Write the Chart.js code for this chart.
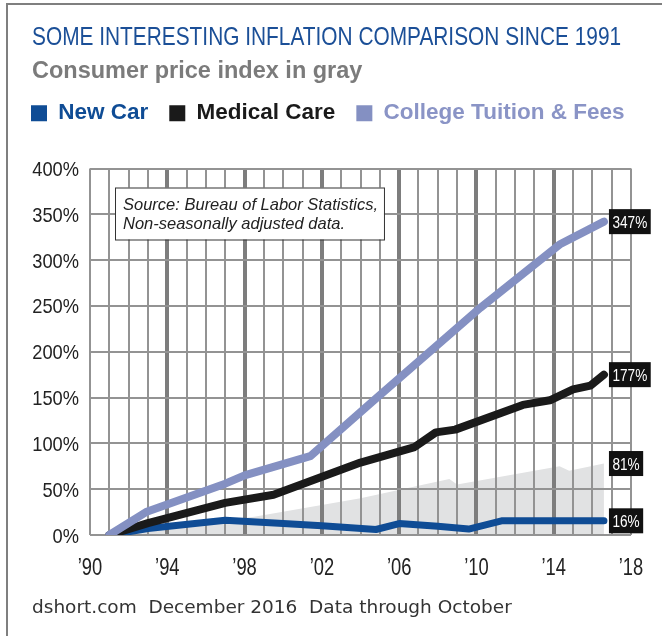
<!DOCTYPE html>
<html>
<head>
<meta charset="utf-8">
<script src="https://cdn.jsdelivr.net/npm/chart.js@4.4.1/dist/chart.umd.min.js"></script>
<style>
  html, body { margin: 0; padding: 0; background: #fff; }
  #wrap { position: relative; width: 662px; height: 636px; }
</style>
</head>
<body>
<div id="wrap"><canvas id="chart" width="662" height="636"></canvas></div>
<script>
// values (percent change since 1991)
const carYears = [1991, 1993, 1997, 2000, 2002, 2004.8, 2006, 2008, 2009.6, 2011.3, 2016.6];
const carValues = [0, 7, 16, 12.5, 10, 6, 12.5, 9.5, 6.5, 15.5, 15.5];

const medYears = [1991, 1993, 1997, 1999.5, 2004, 2006.8, 2007.9, 2008.9, 2012.4, 2013.8, 2015, 2015.9, 2016.6];
const medValues = [0, 13, 35, 44, 79, 96, 112, 115, 142, 147, 159, 163, 175];

const colYears = [1991, 1992.9, 1997, 1998, 2001.4, 2004.8, 2010.2, 2014.3, 2016.6];
const colValues = [0, 25, 56, 65, 86, 149, 248, 317, 342];

const cpiYears = [1991, 1998.5, 2004, 2008.6, 2009, 2014.3, 2014.8, 2016.6];
const cpiValues = [0, 20, 40, 61, 55, 75, 70, 78];

const seriesNames = ["New Car", "Medical Care", "College Tuition & Fees", "Consumer Price Index"];
const endLabels = ["16%", "177%", "347%", "81%"];
const yTicks = [0, 50, 100, 150, 200, 250, 300, 350, 400];

const titleText = "SOME INTERESTING INFLATION COMPARISON SINCE 1991";
const subtitleText = "Consumer price index in gray";
const sourceLines = ["Source: Bureau of Labor Statistics,", "Non-seasonally adjusted data."];
const footerText = "dshort.com  December 2016  Data through October";

const blue = "#0f4c95";
const black = "#1a1a1a";
const lilac = "#8490c2";
const cpiGray = "#e1e2e3";
const legendColors = [blue, black, "#8a94c6"];

const sans = "'Liberation Sans', Arial, sans-serif";

function toPoints(xs, ys) {
  return xs.map((x, i) => ({ x: x, y: ys[i] }));
}

function isMajor(v) {
  return v % 4 === 2 && v > 1990 && v < 2018;
}

// no narrow font installed: squeeze glyphs horizontally
function narrowText(ctx, text, x, y, sx, align) {
  ctx.save();
  ctx.translate(x, y);
  ctx.scale(sx, 1);
  ctx.textAlign = align;
  ctx.fillText(text, 0, 0);
  ctx.restore();
}

// keep legend on one row and leave room below it
const legendGap = {
  id: "legendGap",
  beforeInit(chart) {
    const fit = chart.legend.fit;
    chart.legend.fit = function () {
      this.maxWidth = chart.width;
      fit.bind(chart.legend)();
      this.height += 34;
    };
  },
  afterLayout(chart) {
    chart.legend.right = chart.width;
  }
};

const decor = {
  id: "decor",
  beforeDraw(chart) {
    const ctx = chart.ctx;
    ctx.save();
    ctx.fillStyle = "#7f7f7f";
    ctx.fillRect(6, 3, 2, 633);
    ctx.fillRect(6, 3, 656, 2);
    ctx.restore();
  },
  afterDatasetsDraw(chart) {
    const ctx = chart.ctx;
    const a = chart.chartArea;
    ctx.save();
    // end-of-line value tags
    ctx.font = "17px " + sans;
    ctx.textBaseline = "alphabetic";
    chart.data.datasets.forEach((ds, i) => {
      const meta = chart.getDatasetMeta(i);
      const last = meta.data[meta.data.length - 1];
      const w = ctx.measureText(endLabels[i]).width * 0.8 + 7;
      const x = last.x + 5;
      ctx.fillStyle = "#111";
      ctx.fillRect(x, last.y - 12.5, w, 25);
      ctx.fillStyle = "#fff";
      narrowText(ctx, endLabels[i], x + w / 2, last.y + 6.5, 0.8, "center");
    });
    // source note
    ctx.font = "italic 16.5px " + sans;
    const bw = Math.max(...sourceLines.map(t => ctx.measureText(t).width)) + 14;
    const bx = a.left + 25, by = a.top + 19;
    ctx.fillStyle = "#fff";
    ctx.fillRect(bx, by, bw, 52);
    ctx.strokeStyle = "#333";
    ctx.lineWidth = 1;
    ctx.strokeRect(bx + 0.5, by + 0.5, bw, 52);
    ctx.fillStyle = "#222";
    ctx.textAlign = "left";
    ctx.fillText(sourceLines[0], bx + 8, by + 22);
    ctx.fillText(sourceLines[1], bx + 8, by + 41);
    ctx.restore();
  },
  afterDraw(chart) {
    const ctx = chart.ctx;
    const a = chart.chartArea;
    ctx.save();
    ctx.textBaseline = "alphabetic";
    // tick labels
    ctx.fillStyle = "#222";
    ctx.font = "23.5px " + sans;
    const xs = chart.scales.x;
    xs.ticks.forEach(t => {
      if (t.label) narrowText(ctx, t.label, xs.getPixelForValue(t.value), a.bottom + 40, 0.78, "center");
    });
    ctx.font = "21px " + sans;
    const ys = chart.scales.y;
    ys.ticks.forEach(t => {
      narrowText(ctx, t.label, a.left - 11, ys.getPixelForValue(t.value) + 7.5, 0.87, "right");
    });
    // header and footer
    ctx.fillStyle = "#1b4f97";
    ctx.font = "26.5px " + sans;
    narrowText(ctx, titleText, 32, 45, 0.787, "left");
    ctx.fillStyle = "#7b7b7b";
    ctx.font = "bold 23.5px " + sans;
    ctx.textAlign = "left";
    ctx.fillText(subtitleText, 32, 78);
    ctx.fillStyle = "#333";
    ctx.font = "18.5px 'DejaVu Sans', sans-serif";
    ctx.fillText(footerText, 32, 613);
    ctx.restore();
  }
};

new Chart(document.getElementById("chart"), {
  type: "line",
  data: {
    datasets: [
      {
        label: seriesNames[0],
        data: toPoints(carYears, carValues),
        borderColor: blue,
        backgroundColor: blue,
        borderWidth: 7,
        order: 2
      },
      {
        label: seriesNames[1],
        data: toPoints(medYears, medValues),
        borderColor: black,
        backgroundColor: black,
        borderWidth: 8,
        order: 1
      },
      {
        label: seriesNames[2],
        data: toPoints(colYears, colValues),
        borderColor: lilac,
        backgroundColor: lilac,
        borderWidth: 8,
        order: 0
      },
      {
        label: seriesNames[3],
        data: toPoints(cpiYears, cpiValues),
        borderColor: cpiGray,
        backgroundColor: cpiGray,
        borderWidth: 0,
        fill: "origin",
        order: 3
      }
    ]
  },
  options: {
    responsive: false,
    animation: false,
    layout: { padding: { left: 10, right: 31, top: 81, bottom: 56 } },
    elements: {
      point: { radius: 0 },
      line: { tension: 0, borderCapStyle: "round", borderJoinStyle: "round" }
    },
    plugins: {
      filler: { drawTime: "beforeDraw" },
      tooltip: { enabled: false },
      legend: {
        position: "top",
        align: "start",
        labels: {
          boxWidth: 16,
          boxHeight: 16,
          padding: 21,
          font: { family: sans, size: 22.5, weight: "bold" },
          generateLabels: chart => chart.data.datasets.slice(0, 3).map((ds, i) => ({
            text: ds.label,
            fillStyle: ds.borderColor,
            strokeStyle: ds.borderColor,
            lineWidth: 0,
            fontColor: legendColors[i],
            datasetIndex: i,
            hidden: false
          }))
        }
      }
    },
    scales: {
      x: {
        type: "linear",
        min: 1990,
        max: 2018,
        border: { display: false },
        grid: {
          drawTicks: false,
          color: c => (isMajor(c.tick.value) ? "#7d7d7d" : "#939393"),
          lineWidth: c => (isMajor(c.tick.value) ? 4 : 2)
        },
        ticks: {
          display: false,
          stepSize: 1,
          autoSkip: false,
          callback: v => (v % 4 === 2 ? "\u2019" + String(v).slice(2) : "")
        },
        afterFit: s => { s.height = 45; }
      },
      y: {
        min: yTicks[0],
        max: yTicks[yTicks.length - 1],
        border: { display: false },
        grid: { drawTicks: false, color: "#939393", lineWidth: 2 },
        ticks: {
          display: false,
          stepSize: yTicks[1] - yTicks[0],
          callback: v => v + "%"
        },
        afterFit: s => { s.width = 80; }
      }
    }
  },
  plugins: [legendGap, decor]
});
</script>
</body>
</html>
